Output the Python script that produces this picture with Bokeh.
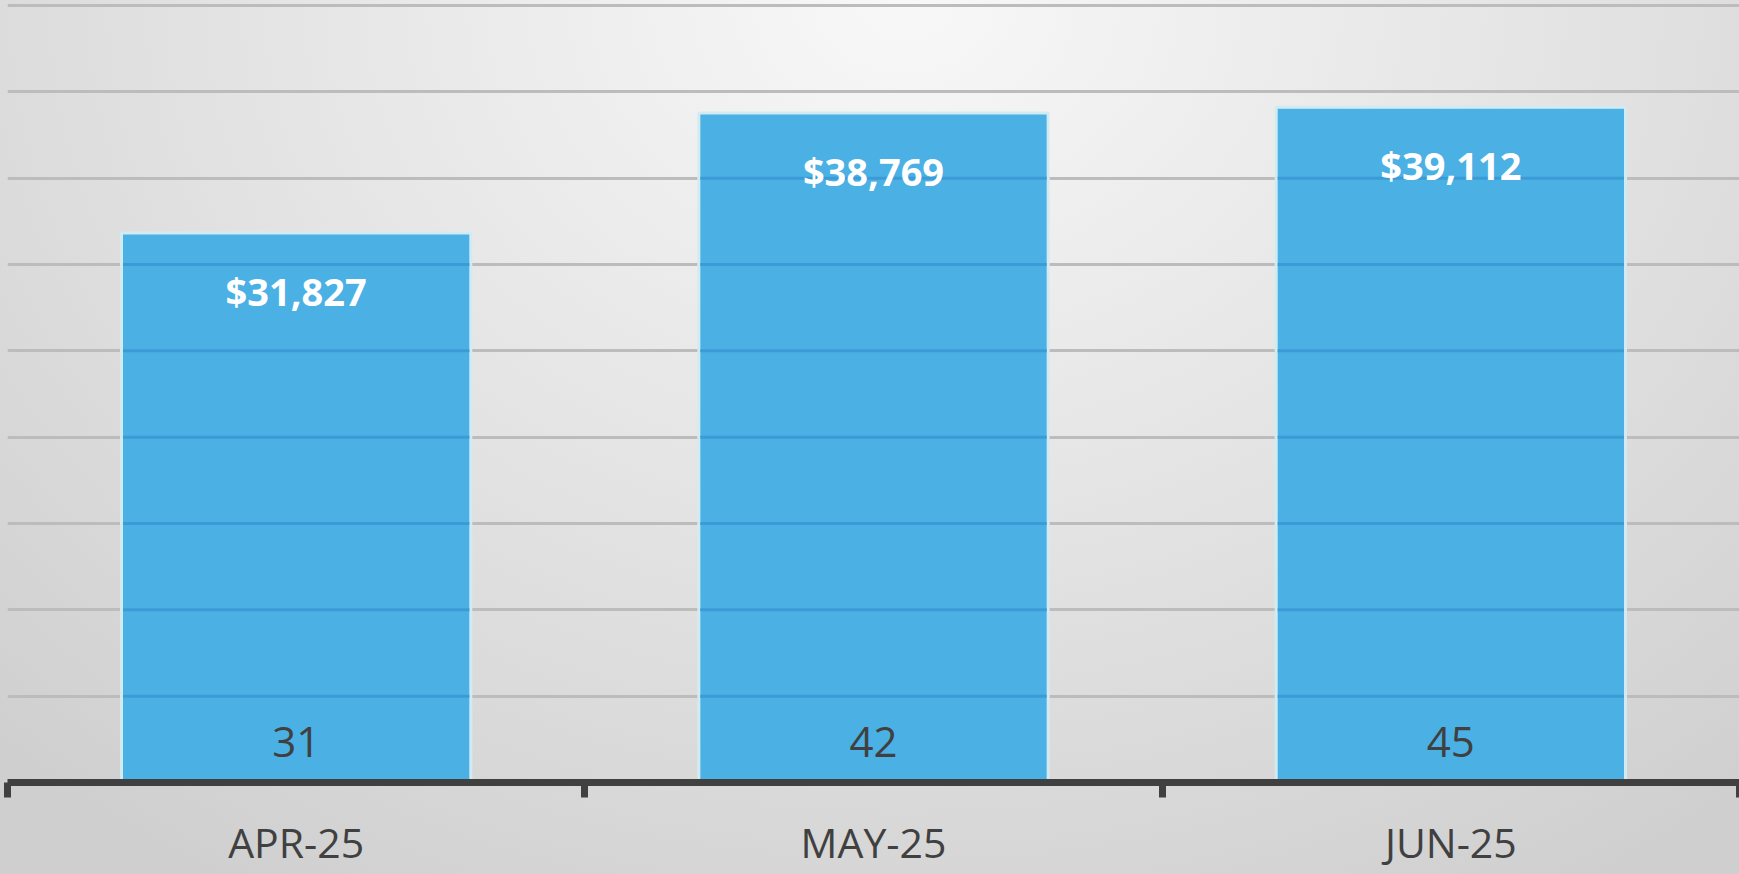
from bokeh.plotting import figure
from bokeh.models import (ColumnDataSource, Range1d, FixedTicker,
                          SingleIntervalTicker, LabelSet, GlobalInlineStyleSheet)
from bokeh.core.properties import value
from bokeh.embed import file_html
from bokeh.resources import INLINE

# ---- data ----
months = ["APR-25", "MAY-25", "JUN-25"]
revenue = [31827, 38769, 39112]
revenue_labels = ["$31,827", "$38,769", "$39,112"]
counts = [31, 42, 45]
count_labels = ["31", "42", "45"]
grid_step = 5000
grid_max = 45000

n = len(months)
xpos = [i + 0.5 for i in range(n)]          # category centres on a 0..n scale

W, H = 1739, 874
p = figure(x_range=Range1d(0, n), y_range=Range1d(0, 45290), width=W, height=H,
           output_backend="svg", toolbar_location=None,
           y_axis_location=None,
           min_border_left=7, min_border_right=0, min_border_top=0,
           min_border_bottom=92)
p.background_fill_alpha = 0
p.border_fill_alpha = 0
p.outline_line_color = None
p.styles = {"background": "radial-gradient(ellipse 75% 120% at 52% 0%, #f8f8f8 0%, #e4e4e4 50%, #cfcfcf 100%)"}
p.stylesheets = [GlobalInlineStyleSheet(css="html,body{margin:0!important;padding:0;overflow:hidden;background:#d2d2d2;}")]

p.xgrid.visible = False
p.ygrid.ticker = SingleIntervalTicker(interval=grid_step)
p.ygrid.grid_line_color = "#bcbcbc"
p.ygrid.grid_line_width = 3

src = ColumnDataSource(dict(x=xpos, top=revenue, lab=revenue_labels,
                            cnt=count_labels, zero=[0] * n))
p.vbar(x="x", top="top", width=0.605, source=src, fill_color="#4bb0e4",
       line_color="#d2ebf3", line_width=3)

# darker gridline traces seen through the bars
gx, gy = [], []
for xc, v in zip(xpos, revenue):
    t = grid_step
    while t < v:
        gx.append(xc)
        gy.append(t)
        t += grid_step
p.rect(x=gx, y=gy, width=0.6, height=3, height_units="screen",
       fill_color="#3b9bd7", line_color=None)

p.add_layout(LabelSet(x="x", y="top", text="lab", source=src, y_offset=-73,
                      text_align="center", text_baseline="alphabetic",
                      text_color="white", text_font=value("Open Sans"),
                      text_font_style="bold", text_font_size="38px"))
p.add_layout(LabelSet(x="x", y="zero", text="cnt", source=src, y_offset=26,
                      text_align="center", text_baseline="alphabetic",
                      text_color="#404040", text_font=value("Open Sans"),
                      text_font_size="42px"))

# category axis: labels at centres, tick marks at category boundaries
ax = p.xaxis[0]
ax.ticker = FixedTicker(ticks=xpos, minor_ticks=list(range(n + 1)))
ax.major_label_overrides = {x: m for x, m in zip(xpos, months)}
ax.axis_line_width = 7
ax.axis_line_color = "#404040"
ax.major_tick_line_color = None
ax.major_tick_in = 0
ax.major_tick_out = 0
ax.minor_tick_in = 0
ax.minor_tick_out = 15
ax.minor_tick_line_width = 7
ax.minor_tick_line_color = "#404040"
ax.major_label_text_font = "Open Sans"
ax.major_label_text_font_size = "41px"
ax.major_label_text_color = "#404040"
ax.major_label_standoff = 16

open("out.html", "w").write(file_html(p, INLINE))
